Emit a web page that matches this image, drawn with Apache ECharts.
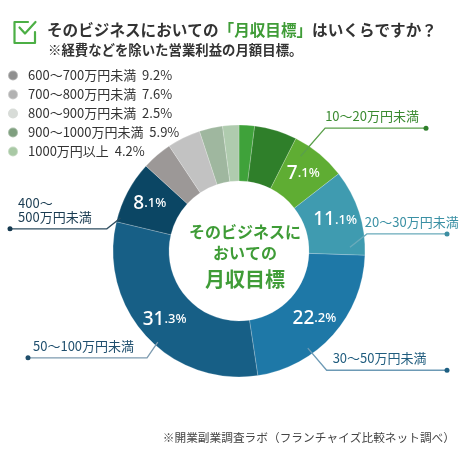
<!DOCTYPE html>
<html><head><meta charset="utf-8">
<script src="https://cdn.jsdelivr.net/npm/echarts@6/dist/echarts.min.js"></script>
<style>html,body{margin:0;padding:0;background:#fff}#c{width:470px;height:474px}</style>
</head><body><div id="c"></div>
<script>
// ---- data ----
const categories = ['5万円未満','5〜10万円未満','10〜20万円未満','20〜30万円未満','30〜50万円未満','50〜100万円未満','400〜500万円未満','600〜700万円未満','700〜800万円未満','800〜900万円未満','900〜1000万円未満','1000万円以上'];
const values = [2.0, 5.5, 7.1, 11.1, 22.2, 31.3, 8.1, 3.9, 4.3, 0, 3.0, 2.1];
const outerLabels = ['', '', '10〜20万円未満', '20〜30万円未満', '30〜50万円未満', '50〜100万円未満', '400〜\n500万円未満', '', '', '', '', ''];
const legendNames = ['600〜700万円未満','700〜800万円未満','800〜900万円未満','900〜1000万円未満','1000万円以上'];
const legendPercents = ['9.2%','7.6%','2.5%','5.9%','4.2%'];
const titleText = 'そのビジネスにおいての';
const titleHighlight = '「月収目標」';
const titleTail = 'はいくらですか？';
const subtitleText = '※経費などを除いた営業利益の月額目標。';
const centerLines = ['そのビジネスに', 'おいての', '月収目標'];
const sourceText = '※開業副業調査ラボ（フランチャイズ比較ネット調べ）';

// ---- styles ----
const sliceColors = ['#3fa23a','#2f7f2a','#5fad33','#3f9bb0','#1e78a7','#175f86','#0b4664','#9c9897','#c2c2c2','#d6d9d6','#9fb79f','#afcbae'];
const legendColors = ['#909090','#b2b2b2','#d8dcd8','#7f9f7f','#a9c9a5'];
const GREEN = '#3f9c37';
const FONT = '"Noto Sans CJK JP", "Noto Sans", sans-serif';
const CX = 239, CY = 251, RIN = 70, ROUT = 126;
// leader line style: angle offsets (deg) from slice middle, radii, end x, text offset
const leader = {
  2: {a0:-6.5, r0:113, a1:-4.5, r1:150, end:426, tx:0,  side:1,  line:'#5aa04a', dot:'#2e7f2a', text:'#3a8a30'},
  3: {a0:16,   r0:111, a1:10.3, r1:129, end:447, tx:-2, side:1,  line:'#6aabbb', dot:'#3c8ea2', text:'#3a90a4'},
  4: {a0:13,   r0:119, a1:12,   r1:148, end:447, tx:6,  side:1,  line:'#6d9ab5', dot:'#1d5f82', text:'#1f5c7e'},
  5: {a0:-5.7, r0:122, a1:-6.7, r1:141, end:28,  tx:5,  side:-1, line:'#7d9bb0', dot:'#1f4e6b', text:'#1f4f6e'},
  6: {a0:-12.4,r0:123, a1:-18.4,r1:134, end:10,  tx:8,  side:-1, line:'#2e4d60', dot:'#163a50', text:'#1a3c52'}
};

// geometry from data
const total = values.reduce((a,b)=>a+b,0);
let cum = 0;
const mids = values.map(v => { const m = (cum + v/2)/total*360; cum += v; return m; });
function pt(deg, r){ const t = deg*Math.PI/180; return [CX + r*Math.sin(t), CY - r*Math.cos(t)]; }
const geom = {};
Object.keys(leader).forEach(k => {
  const g = leader[k], i = +k;
  const s = pt(mids[i] + g.a0, g.r0);
  const e = pt(mids[i] + g.a1, g.r1);
  geom[i] = {s, e, end:[g.end, e[1]], tx: g.side > 0 ? e[0] + g.tx : g.end + g.tx, ty: e[1] - 5};
});

const chart = echarts.init(document.getElementById('c'), null, {renderer:'canvas'});

const pieData = categories.map((n,i) => ({
  name:n, value:values[i],
  itemStyle:{color:sliceColors[i], borderWidth: values[i] ? 0.6 : 0}
}));

const graphics = [];
// check icon
graphics.push({type:'polyline', shape:{points:[[28,22],[14.5,22],[14.5,43],[35,43],[35,32]]}, style:{stroke:'#4caf45', lineWidth:2.2, fill:null, lineJoin:'round', lineCap:'round'}});
graphics.push({type:'polyline', shape:{points:[[19.5,27.5],[25,33.5],[35.5,22]]}, style:{stroke:'#4caf45', lineWidth:2.2, fill:null, lineJoin:'round', lineCap:'round'}});
graphics.push({type:'text', x:47, y:30, style:{text: titleText + '{g|' + titleHighlight + '}' + titleTail, font:'bold 15.6px ' + FONT, fill:'#333', verticalAlign:'middle', rich:{g:{fill:GREEN, font:'bold 15.6px ' + FONT}}}});
graphics.push({type:'text', x:48, y:50, style:{text: subtitleText, font:'bold 13.4px ' + FONT, fill:'#333', verticalAlign:'middle'}});
graphics.push({type:'text', x:245, y:232, style:{text:centerLines[0], font:'bold 16px ' + FONT, fill:GREEN, align:'center', verticalAlign:'middle'}});
graphics.push({type:'text', x:245, y:253, style:{text:centerLines[1], font:'bold 16px ' + FONT, fill:GREEN, align:'center', verticalAlign:'middle'}});
graphics.push({type:'text', x:245, y:279, style:{text:centerLines[2], font:'bold 20px ' + FONT, fill:GREEN, align:'center', verticalAlign:'middle'}});
graphics.push({type:'text', x:455, y:438, style:{text:sourceText, font:'11.7px ' + FONT, fill:'#444', align:'right', verticalAlign:'middle'}});
Object.keys(geom).forEach(k => {
  const g = geom[k];
  graphics.push({type:'circle', shape:{cx:g.end[0], cy:g.end[1], r:2.5}, style:{fill:leader[k].dot}, z:10});
});

chart.setOption({
  animation:false,
  backgroundColor:'#fff',
  legend:{
    orient:'vertical', left:2, top:64, icon:'circle', itemWidth:10, itemHeight:10, itemGap:6,
    selectedMode:false,
    data: legendNames.map((n,i)=>({name:n, itemStyle:{color:legendColors[i]}})),
    formatter: n => n + '  ' + legendPercents[legendNames.indexOf(n)],
    textStyle:{fontSize:13, color:'#333', fontFamily:FONT, padding:[0,0,0,5]}
  },
  graphic: graphics,
  series:[
    {
      type:'pie', radius:[RIN, ROUT], center:[CX, CY], startAngle:90, clockwise:true,
      silent:true, avoidLabelOverlap:false,
      itemStyle:{borderColor:'rgba(255,255,255,0.35)'},
      data: pieData,
      label:{
        show:true, position:'inside',
        formatter: p => {
          if (!outerLabels[p.dataIndex]) return '';
          const parts = p.value.toFixed(1).split('.');
          return '{a|' + parts[0] + '}{b|.' + parts[1] + '%}';
        },
        rich:{
          a:{fontSize:19, color:'#fff', fontFamily:'"Noto Sans", sans-serif', fontWeight:500},
          b:{fontSize:13, color:'#fff', fontFamily:'"Noto Sans", sans-serif', fontWeight:500}
        }
      },
      labelLine:{show:false}
    },
    {
      type:'pie', radius:[RIN, ROUT], center:[CX, CY], startAngle:90, clockwise:true,
      silent:true, avoidLabelOverlap:false, z:5,
      data: categories.map((n,i)=>({
        name:n, value:values[i],
        itemStyle:{color:'rgba(0,0,0,0)'},
        label:{show: !!outerLabels[i], color: leader[i] ? leader[i].text : '#333'},
        labelLine:{show: !!outerLabels[i], lineStyle:{color: leader[i] ? leader[i].line : '#999', width:1.3}}
      })),
      label:{
        position:'outside', fontSize:13, fontFamily:FONT, lineHeight:14,
        formatter: p => outerLabels[p.dataIndex]
      },
      labelLine:{show:true, length:10, length2:10},
      labelLayout: p => {
        const g = geom[p.dataIndex];
        if (!g) return {};
        return {x:g.tx, y:g.ty, align:'left', verticalAlign:'bottom', labelLinePoints:[g.s, g.e, g.end]};
      }
    }
  ]
});
</script></body></html>
